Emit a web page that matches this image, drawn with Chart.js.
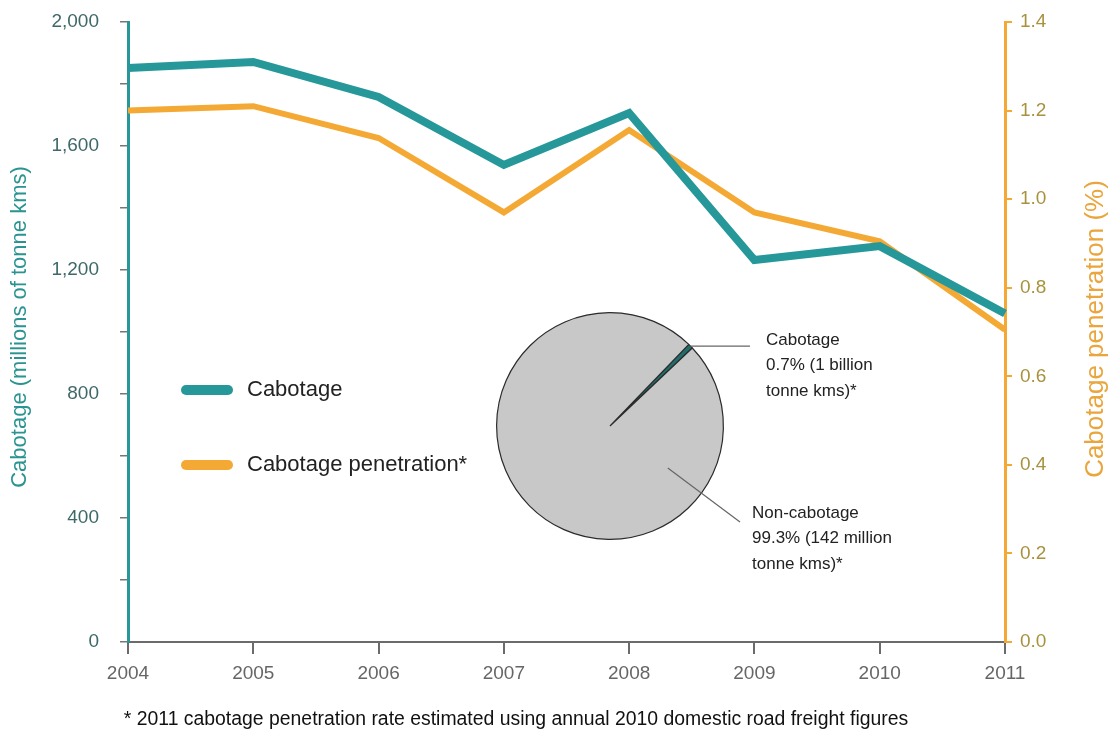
<!DOCTYPE html>
<html>
<head>
<meta charset="utf-8">
<script src="https://cdn.jsdelivr.net/npm/chart.js@4.4.1/dist/chart.umd.min.js"></script>
<style>
  html, body { margin: 0; padding: 0; background: #fff; }
  #wrap { position: relative; width: 1111px; height: 734px; }
  #wrap canvas { position: absolute; left: 0; top: 0; }
  #pie { pointer-events: none; }
</style>
</head>
<body>
<div id="wrap">
  <canvas id="chart" width="1111" height="734"></canvas>
  <canvas id="pie" width="1111" height="734"></canvas>
</div>
<script>
// yearly cabotage volume and penetration rate
const years = ['2004', '2005', '2006', '2007', '2008', '2009', '2010', '2011'];
const cabotage = [1852, 1871, 1758, 1539, 1706, 1232, 1277, 1060];
const penetration = [1.20, 1.21, 1.138, 0.97, 1.156, 0.97, 0.905, 0.705];

// share of domestic road freight in 2011
const shareLabels = ['Cabotage', 'Non-cabotage'];
const shareValues = [0.7, 99.3];
const shareText = [
  ['Cabotage', '0.7% (1 billion', 'tonne kms)*'],
  ['Non-cabotage', '99.3% (142 million', 'tonne kms)*']
];

const footnote = '* 2011 cabotage penetration rate estimated using annual 2010 domestic road freight figures';

const TEAL = '#26989a';
const ORANGE = '#f5a935';
const FONT = "'Liberation Sans', Arial, sans-serif";

// keep the value axes from pushing the plot area down
function noVerticalPadding(s) {
  s.paddingTop = 0;
  s.paddingBottom = 0;
}

// axis titles, legend and footnote
const extras = {
  id: 'extras',
  afterDraw(chart) {
    const ctx = chart.ctx;
    ctx.save();

    ctx.textAlign = 'center';
    ctx.textBaseline = 'middle';
    ctx.font = '22px ' + FONT;
    ctx.fillStyle = '#2a9490';
    ctx.translate(20, 327);
    ctx.rotate(-Math.PI / 2);
    ctx.fillText('Cabotage (millions of tonne kms)', 0, 0);
    ctx.setTransform(1, 0, 0, 1, 0, 0);

    ctx.font = '26px ' + FONT;
    ctx.fillStyle = '#eaa53c';
    ctx.translate(1096, 329);
    ctx.rotate(-Math.PI / 2);
    ctx.fillText('Cabotage penetration (%)', 0, 0);
    ctx.setTransform(1, 0, 0, 1, 0, 0);

    // legend
    const items = [
      { label: 'Cabotage', color: TEAL, y: 390 },
      { label: 'Cabotage penetration*', color: ORANGE, y: 465 }
    ];
    ctx.lineCap = 'round';
    ctx.lineWidth = 10;
    items.forEach(it => {
      ctx.strokeStyle = it.color;
      ctx.beginPath();
      ctx.moveTo(186, it.y);
      ctx.lineTo(228, it.y);
      ctx.stroke();
      ctx.fillStyle = '#222';
      ctx.font = '22px ' + FONT;
      ctx.textAlign = 'left';
      ctx.fillText(it.label, 247, it.y);
    });

    ctx.fillStyle = '#111';
    ctx.textAlign = 'center';
    ctx.font = '19.4px ' + FONT;
    ctx.fillText(footnote, 516, 720);
    ctx.restore();
  }
};

new Chart(document.getElementById('chart'), {
  type: 'line',
  data: {
    labels: years,
    datasets: [
      {
        label: 'Cabotage',
        data: cabotage,
        yAxisID: 'y',
        borderColor: TEAL,
        borderWidth: 8,
        borderJoinStyle: 'miter',
        pointRadius: 0,
        tension: 0
      },
      {
        label: 'Cabotage penetration*',
        data: penetration,
        yAxisID: 'y1',
        borderColor: ORANGE,
        borderWidth: 6,
        borderJoinStyle: 'miter',
        pointRadius: 0,
        tension: 0
      }
    ]
  },
  options: {
    responsive: false,
    animation: false,
    layout: { padding: { top: 22, left: 0, right: 0, bottom: 0 } },
    plugins: { legend: { display: false }, tooltip: { enabled: false } },
    scales: {
      x: {
        offset: false,
        border: { color: '#6b6b6b', width: 2 },
        grid: { drawOnChartArea: false, color: '#6b6b6b', tickLength: 12, lineWidth: 2 },
        ticks: { color: '#666', font: { size: 19, family: FONT }, padding: 8, maxRotation: 0 },
        afterFit(s) { s.height = 92; }
      },
      y: {
        position: 'left',
        min: 0,
        max: 2000,
        border: { color: TEAL, width: 3 },
        grid: { drawOnChartArea: false, color: '#777', tickLength: 8, lineWidth: 1.5 },
        ticks: {
          stepSize: 200,
          color: '#3f6868',
          font: { size: 19, family: FONT },
          padding: 21,
          callback: v => (v % 400 === 0 ? v.toLocaleString('en-US') : '')
        },
        afterFit(s) { s.width = 128; noVerticalPadding(s); }
      },
      y1: {
        position: 'right',
        min: 0,
        max: 1.4,
        border: { color: ORANGE, width: 3 },
        grid: { drawOnChartArea: false, color: ORANGE, tickLength: 7, lineWidth: 2 },
        ticks: {
          stepSize: 0.2,
          color: '#a8923e',
          font: { size: 19, family: FONT },
          padding: 8,
          callback: v => v.toFixed(1)
        },
        afterFit(s) { s.width = 106; noVerticalPadding(s); }
      }
    }
  },
  plugins: [extras]
});

// leader lines and labels for the share pie
const pieLabels = {
  id: 'pieLabels',
  afterDraw(chart) {
    const ctx = chart.ctx;
    const arcs = chart.getDatasetMeta(0).data;
    const a0 = arcs[0];
    const cx = a0.x, cy = a0.y, r = a0.outerRadius;
    ctx.save();
    ctx.strokeStyle = '#666';
    ctx.lineWidth = 1.2;

    // cabotage slice: from the rim at mid-angle out to the right
    const mid = (a0.startAngle + a0.endAngle) / 2;
    const sx = cx + Math.cos(mid) * r;
    const sy = cy + Math.sin(mid) * r;
    ctx.beginPath();
    ctx.moveTo(sx, sy);
    ctx.lineTo(750, sy);
    ctx.stroke();

    // non-cabotage slice: from inside the slice down to the label
    const ang = (126 - 90) * Math.PI / 180;
    const ix = cx + Math.cos(ang) * r * 0.63;
    const iy = cy + Math.sin(ang) * r * 0.63;
    ctx.beginPath();
    ctx.moveTo(ix, iy);
    ctx.lineTo(740, 522);
    ctx.stroke();

    ctx.fillStyle = '#222';
    ctx.font = '17px ' + FONT;
    ctx.textAlign = 'left';
    ctx.textBaseline = 'middle';
    shareText[0].forEach((t, i) => ctx.fillText(t, 766, 340 + i * 25.5));
    shareText[1].forEach((t, i) => ctx.fillText(t, 752, 513 + i * 25.5));
    ctx.restore();
  }
};

new Chart(document.getElementById('pie'), {
  type: 'pie',
  data: {
    labels: shareLabels,
    datasets: [{
      data: shareValues,
      backgroundColor: ['#1f6e6c', '#c8c8c8'],
      borderColor: '#2b2b2b',
      borderWidth: 1.2
    }]
  },
  options: {
    responsive: false,
    animation: false,
    rotation: 44,
    layout: { padding: { left: 496, right: 387, top: 312, bottom: 194 } },
    plugins: { legend: { display: false }, tooltip: { enabled: false } }
  },
  plugins: [pieLabels]
});
</script>
</body>
</html>
